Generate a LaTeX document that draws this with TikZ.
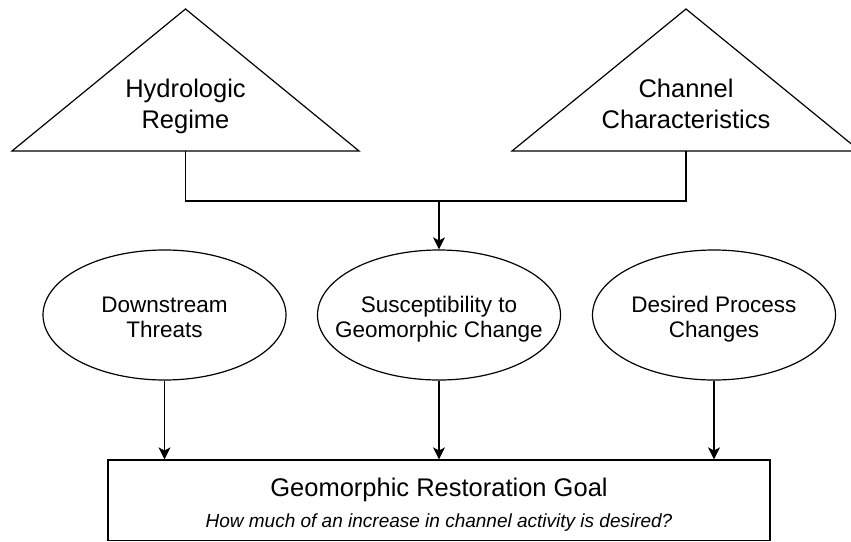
\documentclass[tikz,border=0pt]{standalone}
\usepackage{fontspec}
\setmainfont{Liberation Sans}
\usetikzlibrary{shapes.geometric,arrows.meta}
\begin{document}
\begin{tikzpicture}[x=1pt,y=-1pt,line width=1.2pt,
  ttl/.style={font=\fontsize{25.5}{30}\selectfont, anchor=base, inner sep=0pt},
  elab/.style={font=\fontsize{22.5}{25}\selectfont, anchor=base, inner sep=0pt},
  sub/.style={font=\fontsize{19}{22}\selectfont\itshape, anchor=base, inner sep=0pt},
  oval/.style={draw, ellipse, minimum width=243pt, minimum height=130pt, inner sep=0pt},
  arr/.style={-{Stealth[length=12pt,width=12pt,inset=3pt]}}]
\useasboundingbox (0,0) rectangle (851,541);
\clip (0,0) rectangle (851,541);
% triangles
\coordinate (hrA) at (185.5,9);
\coordinate (hrL) at (12,151);
\coordinate (hrR) at (359,151);
\coordinate (hrB) at (185.5,151);
\draw[line join=miter] (hrA) -- (hrL) -- (hrR) -- cycle;
\node[ttl] (hr1) at (185.5,97.7) {Hydrologic};
\node[ttl] (hr2) at (185.5,128) {Regime};
\coordinate (ccA) at (686,9);
\coordinate (ccL) at (512,151);
\coordinate (ccR) at (860,151);
\coordinate (ccB) at (686,151);
\draw[line join=miter] (ccA) -- (ccL) -- (ccR) -- cycle;
\node[ttl] (cc1) at (686,97.7) {Channel};
\node[ttl] (cc2) at (686,128) {Characteristics};
% ellipses
\node[oval] (dt) at (164.5,315) {};
\node[oval] (sus) at (439,315) {};
\node[oval] (dpc) at (714,315) {};
\node[elab] (dt1) at (164.5,312.7) {Downstream};
\node[elab] (dt2) at (164.5,337.7) {Threats};
\node[elab] (sus1) at (439,312.7) {Susceptibility to};
\node[elab] (sus2) at (439,337.7) {Geomorphic Change};
\node[elab] (dpc1) at (714,312.7) {Desired Process};
\node[elab] (dpc2) at (714,337.7) {Changes};
% junction connector
\coordinate (j) at (439,201);
\draw (hrB) |- (j) -| (ccB);
\draw[arr] (j) -- (sus.north);
% goal box
\node[draw, minimum width=662pt, minimum height=80.5pt, inner sep=0pt] (goal) at (439,500.25) {};
\node[ttl] (g1) at (439,496.7) {Geomorphic Restoration Goal};
\node[sub] (g2) at (439,527) {How much of an increase in channel activity is desired?};
\draw[arr] (dt.south) -- (dt.south |- goal.north);
\draw[arr] (sus.south) -- (sus.south |- goal.north);
\draw[arr] (dpc.south) -- (dpc.south |- goal.north);
\end{tikzpicture}
\end{document}
